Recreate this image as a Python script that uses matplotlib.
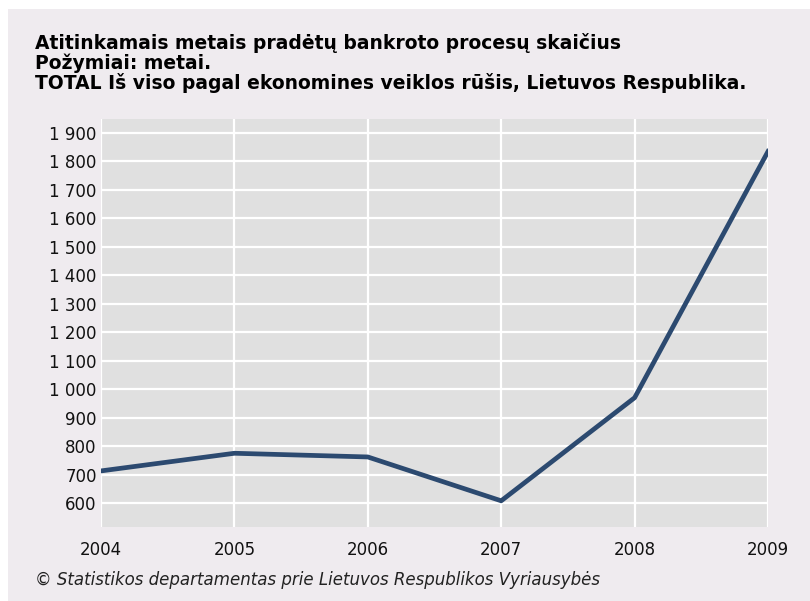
import matplotlib.pyplot as plt
from matplotlib.patches import Rectangle
from matplotlib.ticker import FuncFormatter

years = [2004, 2005, 2006, 2007, 2008, 2009]
values = [713, 775, 762, 608, 970, 1835]
y_ticks = list(range(600, 2000, 100))

title_lines = [
    "Atitinkamais metais pradėtų bankroto procesų skaičius",
    "Požymiai: metai.",
    "TOTAL Iš viso pagal ekonomines veiklos rūšis, Lietuvos Respublika.",
]
footer = "© Statistikos departamentas prie Lietuvos Respublikos Vyriausybės"

W, H = 810, 601
fig = plt.figure(figsize=(W / 100, H / 100), dpi=100, facecolor="white")
# pinkish panel, leaves a thin white border top/left
fig.patches.append(Rectangle((8 / W, 0), 1, 1 - 9 / H, transform=fig.transFigure,
                             facecolor="#efebef", edgecolor="none", zorder=-10))

ax = fig.add_axes([101 / W, 1 - 527 / H, (768 - 101) / W, (527 - 119) / H])
ax.set_facecolor("#e0e0e0")
ax.plot(years, values, color="#2c4a70", lw=3.4, solid_joinstyle="round")

ax.set_xlim(2004, 2009)
ax.set_ylim(516, 1949)
ax.set_xticks(years)
ax.set_yticks(y_ticks)
ax.yaxis.set_major_formatter(FuncFormatter(lambda v, p: f"{int(v):,}".replace(",", " ")))
ax.grid(True, color="white", lw=1.6)
ax.set_axisbelow(True)
for s in ax.spines.values():
    s.set_visible(False)
ax.tick_params(length=0, labelsize=12, colors="#111111")
ax.tick_params(axis="x", pad=10)
ax.tick_params(axis="y", pad=3)

for i, line in enumerate(title_lines):
    fig.text(35 / W, 1 - (43 + 20 * i) / H, line, fontsize=13.5, fontweight="bold",
             va="center", ha="left", color="black")

fig.text(35 / W, 1 - 580 / H, footer, fontsize=12, style="italic",
         va="center", ha="left", color="#222222")

fig.savefig("out.png", dpi=100, facecolor=fig.get_facecolor())
